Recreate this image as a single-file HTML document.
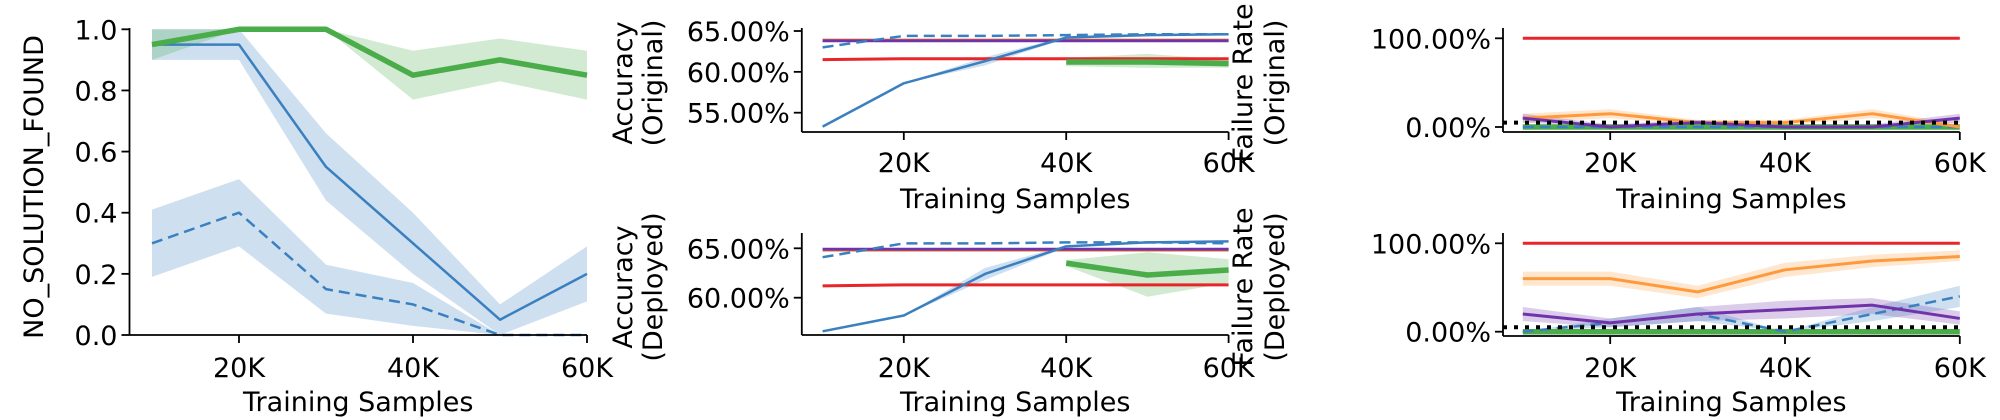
<!DOCTYPE html>
<html><head><meta charset="utf-8"><style>
html,body{margin:0;padding:0;background:#fff;}
svg{display:block;font-family:"DejaVu Sans","Liberation Sans",sans-serif;}
</style></head><body>
<svg id="fig" width="2000" height="420" viewBox="0 0 2000 420" xmlns="http://www.w3.org/2000/svg"></svg>
<script>
// ---- data ----
const xsAll=[10,20,30,40,50,60];
const xsLate=[40,50,60];
const xTicks=[20,40,60];
const xTickLabels=["20K","40K","60K"];

// panel 1: NO_SOLUTION_FOUND
const p1Green=[0.95,1,1,0.85,0.9,0.85];
const p1GreenLo=[0.9,1,1,0.77,0.83,0.77];
const p1GreenHi=[1,1,1,0.93,0.97,0.93];
const p1Blue=[0.95,0.95,0.55,0.3,0.05,0.2];
const p1BlueLo=[0.9,0.9,0.44,0.2,0,0.11];
const p1BlueHi=[1,1,0.66,0.4,0.1,0.29];
const p1BlueDash=[0.3,0.4,0.15,0.1,0,0];
const p1BlueDashLo=[0.19,0.29,0.07,0.03,0,0];
const p1BlueDashHi=[0.41,0.51,0.23,0.17,0,0];
const p1Ticks=[0,0.2,0.4,0.6,0.8,1.0];
const p1TickLabels=["0.0","0.2","0.4","0.6","0.8","1.0"];

// panel 2: Accuracy (Original)
const p2Blue=[53.3,58.6,61.3,64.2,64.5,64.6];
const p2BlueLo=[53.3,58.6,60.8,64.1,64.5,64.6];
const p2BlueHi=[53.3,58.6,61.8,64.3,64.5,64.6];
const p2BlueDash=[63.0,64.4,64.4,64.5,64.6,64.6];
const p2Orange=[63.9,63.9,63.9,63.9,63.9,63.9];
const p2Purple=[63.8,63.8,63.8,63.8,63.8,63.8];
const p2Red=[61.5,61.6,61.6,61.6,61.6,61.6];
const p2Green=[61.2,61.2,61.0];
const p2GreenLo=[60.7,60.5,60.5];
const p2GreenHi=[61.7,62.2,61.5];
const p2Ticks=[55,60,65];
const p2TickLabels=["55.00%","60.00%","65.00%"];

// panel 3: Accuracy (Deployed)
const p3Blue=[56.6,58.2,62.4,65.2,65.6,65.7];
const p3BlueLo=[56.6,58.2,61.8,65.1,65.6,65.7];
const p3BlueHi=[56.6,58.2,63.0,65.3,65.6,65.7];
const p3BlueDash=[64.1,65.5,65.5,65.6,65.6,65.5];
const p3Orange=[64.8,64.8,64.8,64.8,64.8,64.8];
const p3Purple=[64.9,64.9,64.9,64.9,64.9,64.9];
const p3Red=[61.2,61.3,61.3,61.3,61.3,61.3];
const p3Green=[63.5,62.3,62.8];
const p3GreenLo=[63.2,60.1,61.5];
const p3GreenHi=[63.8,64.6,63.9];
const p3Ticks=[60,65];
const p3TickLabels=["60.00%","65.00%"];

// panel 4: Failure Rate (Original)
const p4Red=[100,100,100,100,100,100];
const p4Orange=[10,15,5,5,15,0];
const p4OrangeLo=[5,10,2,2,10,0];
const p4OrangeHi=[15,20,8,8,20,3];
const p4Purple=[10,0,5,0,0,10];
const p4PurpleLo=[5,0,2,0,0,5];
const p4PurpleHi=[15,3,8,3,3,15];
const p4BlueDash=[0,0,0,0,0,0];
const p4Green=[0,0,0,0,0,0];
const p4Ref=5;
const p4Ticks=[0,100];
const p4TickLabels=["0.00%","100.00%"];

// panel 5: Failure Rate (Deployed)
const p5Red=[100,100,100,100,100,100];
const p5Orange=[60,60,45,70,80,85];
const p5OrangeLo=[52,52,38,62,73,80];
const p5OrangeHi=[68,68,52,78,87,92];
const p5Purple=[20,10,20,25,30,15];
const p5PurpleLo=[12,5,12,15,20,8];
const p5PurpleHi=[28,15,28,35,38,23];
const p5BlueDash=[0,10,20,0,20,40];
const p5BlueDashLo=[0,5,12,0,12,28];
const p5BlueDashHi=[0,15,28,0,28,52];
const p5Green=[0,0,0,0,0,0];
const p5Ref=5;
const p5Ticks=[0,100];
const p5TickLabels=["0.00%","100.00%"];

// ---- drawing ----
const NS="http://www.w3.org/2000/svg";
const FS=27;
const svg=document.getElementById('fig');
const C={blue:"#3a80c0",green:"#4aad4a",red:"#e8262a",purple:"#7133aa",orange:"#ff9a3c",black:"#000"};
function mk(tag,attrs,parent){const e=document.createElementNS(NS,tag);for(const k in attrs)e.setAttribute(k,attrs[k]);(parent||svg).appendChild(e);return e;}
function linMap(d0,d1,r0,r1){return v=>r0+(v-d0)*(r1-r0)/(d1-d0);}

function panel(name,cfg){
  const g=mk('g',{});
  
  
  cfg.g=g;return cfg;
}
function band(P,xa,lo,hi,color,name){
  let d="";
  xa.forEach((x,i)=>{d+=(i?"L":"M")+P.x(x)+","+P.y(hi[i]);});
  for(let i=xa.length-1;i>=0;i--)d+="L"+P.x(xa[i])+","+P.y(lo[i]);
  const e=mk('path',{d:d+"Z",fill:color,"fill-opacity":0.25,stroke:"none"},P.g);
  
  
}
function line(P,xa,ya,color,w,dash,name){
  const pts=xa.map((x,i)=>P.x(x)+","+P.y(ya[i])).join(" ");
  const a={points:pts,fill:"none",stroke:color,"stroke-width":w,"stroke-linejoin":"round"};
  if(dash)a["stroke-dasharray"]=dash;
  const e=mk('polyline',a,P.g);
  
  
}
function hline(P,v,color,w,dash,name){
  const e=mk('line',{x1:P.ax,x2:P.xr,y1:P.y(v),y2:P.y(v),stroke:color,"stroke-width":w,"stroke-dasharray":dash},P.g);
  
  
}
function axes(P,yt,ytl,tickBase,xlabBase,yl){
  const ax=mk('g',{},P.g);
  
  
  mk('line',{x1:P.ax,x2:P.ax,y1:P.top,y2:P.bot,stroke:"#000","stroke-width":1.8},ax);
  mk('line',{x1:P.ax,x2:P.xr,y1:P.bot,y2:P.bot,stroke:"#000","stroke-width":1.8},ax);
  yt.forEach((v,i)=>{
    mk('line',{x1:P.ax-8,x2:P.ax,y1:P.y(v),y2:P.y(v),stroke:"#000","stroke-width":1.8},ax);
    const t=mk('text',{x:P.ax-12,y:P.y(v)+10,"text-anchor":"end","font-size":FS,fill:"#000"},ax);
    t.textContent=ytl[i];
    
    
  });
  xTicks.forEach((v,i)=>{
    mk('line',{x1:P.x(v),x2:P.x(v),y1:P.bot,y2:P.bot+8,stroke:"#000","stroke-width":1.8},ax);
    const t=mk('text',{x:P.x(v),y:tickBase,"text-anchor":"middle","font-size":FS,fill:"#000"},ax);
    t.textContent=xTickLabels[i];
    
    
  });
  const xl=mk('text',{x:(P.ax+P.xr)/2,y:xlabBase,"text-anchor":"middle","font-size":FS,fill:"#000"},ax);
  xl.textContent="Training Samples";
  
  
  yl.lines.forEach((s,i)=>{
    const t=mk('text',{transform:`translate(${yl.xs[i]},${yl.cy}) rotate(-90)`,"text-anchor":"middle","font-size":FS,fill:"#000"},ax);
    t.textContent=s;
    
    
  });
}

// Panel 1
const P1=panel('panel-no-solution',{x:linMap(10,60,152,587),y:linMap(0,1,335,29.3),ax:129.5,xr:587,top:28,bot:335});
band(P1,xsAll,p1BlueLo,p1BlueHi,C.blue,'band-blue');
band(P1,xsAll,p1BlueDashLo,p1BlueDashHi,C.blue,'band-blue-dashed');
band(P1,xsAll,p1GreenLo,p1GreenHi,C.green,'band-green');
line(P1,xsAll,p1BlueDash,C.blue,2.5,"11 6",'line-blue-dashed');
line(P1,xsAll,p1Blue,C.blue,2.5,null,'line-blue');
line(P1,xsAll,p1Green,C.green,5.5,null,'line-green');
axes(P1,p1Ticks,p1TickLabels,377,411,{lines:["NO_SOLUTION_FOUND"],xs:[43],cy:187});

// Panel 2
const P2=panel('panel-accuracy-original',{x:linMap(10,60,822.6,1228.6),y:linMap(55,65,112.7,31),ax:801.8,xr:1228.6,top:28,bot:132});
band(P2,xsAll,p2BlueLo,p2BlueHi,C.blue,'band-blue');
band(P2,xsLate,p2GreenLo,p2GreenHi,C.green,'band-green');
line(P2,xsAll,p2Red,C.red,3,null,'line-red');
line(P2,xsLate,p2Green,C.green,5.5,null,'line-green');
line(P2,xsAll,p2Orange,C.orange,3,null,'line-orange');
line(P2,xsAll,p2Purple,C.purple,3,null,'line-purple');
line(P2,xsAll,p2BlueDash,C.blue,2.5,"11 6",'line-blue-dashed');
line(P2,xsAll,p2Blue,C.blue,2.5,null,'line-blue');
axes(P2,p2Ticks,p2TickLabels,172,208,{lines:["Accuracy","(Original)"],xs:[632,662],cy:83});

// Panel 3
const P3=panel('panel-accuracy-deployed',{x:linMap(10,60,822.6,1228.6),y:linMap(60,65,297.7,248.3),ax:801.8,xr:1228.6,top:233,bot:335});
band(P3,xsAll,p3BlueLo,p3BlueHi,C.blue,'band-blue');
band(P3,xsLate,p3GreenLo,p3GreenHi,C.green,'band-green');
line(P3,xsAll,p3Red,C.red,3,null,'line-red');
line(P3,xsLate,p3Green,C.green,5.5,null,'line-green');
line(P3,xsAll,p3Orange,C.orange,3,null,'line-orange');
line(P3,xsAll,p3Purple,C.purple,3,null,'line-purple');
line(P3,xsAll,p3BlueDash,C.blue,2.5,"11 6",'line-blue-dashed');
line(P3,xsAll,p3Blue,C.blue,2.5,null,'line-blue');
axes(P3,p3Ticks,p3TickLabels,377,411,{lines:["Accuracy","(Deployed)"],xs:[632,662],cy:287});

// Panel 4
const P4=panel('panel-failure-original',{x:linMap(10,60,1522.8,1959.8),y:linMap(0,100,127,38.3),ax:1503,xr:1959.8,top:28,bot:132});
band(P4,xsAll,p4OrangeLo,p4OrangeHi,C.orange,'band-orange');
band(P4,xsAll,p4PurpleLo,p4PurpleHi,C.purple,'band-purple');
line(P4,xsAll,p4Red,C.red,3,null,'line-red');
line(P4,xsAll,p4Green,C.green,5.5,null,'line-green');
line(P4,xsAll,p4BlueDash,C.blue,2.5,"11 6",'line-blue-dashed');
line(P4,xsAll,p4Orange,C.orange,3,null,'line-orange');
line(P4,xsAll,p4Purple,C.purple,3,null,'line-purple');
hline(P4,p4Ref,C.black,4,"4 7",'reference-line');
axes(P4,p4Ticks,p4TickLabels,172,208,{lines:["Failure Rate","(Original)"],xs:[1252,1284],cy:83});

// Panel 5
const P5=panel('panel-failure-deployed',{x:linMap(10,60,1522.8,1959.8),y:linMap(0,100,331.7,243.3),ax:1503,xr:1959.8,top:233,bot:336});
band(P5,xsAll,p5OrangeLo,p5OrangeHi,C.orange,'band-orange');
band(P5,xsAll,p5PurpleLo,p5PurpleHi,C.purple,'band-purple');
band(P5,xsAll,p5BlueDashLo,p5BlueDashHi,C.blue,'band-blue-dashed');
line(P5,xsAll,p5Red,C.red,3,null,'line-red');
line(P5,xsAll,p5Green,C.green,5.5,null,'line-green');
line(P5,xsAll,p5BlueDash,C.blue,2.5,"11 6",'line-blue-dashed');
line(P5,xsAll,p5Orange,C.orange,3,null,'line-orange');
line(P5,xsAll,p5Purple,C.purple,3,null,'line-purple');
hline(P5,p5Ref,C.black,4,"4 7",'reference-line');
axes(P5,p5Ticks,p5TickLabels,377,411,{lines:["Failure Rate","(Deployed)"],xs:[1252,1284],cy:287});
</script>
</body></html>
